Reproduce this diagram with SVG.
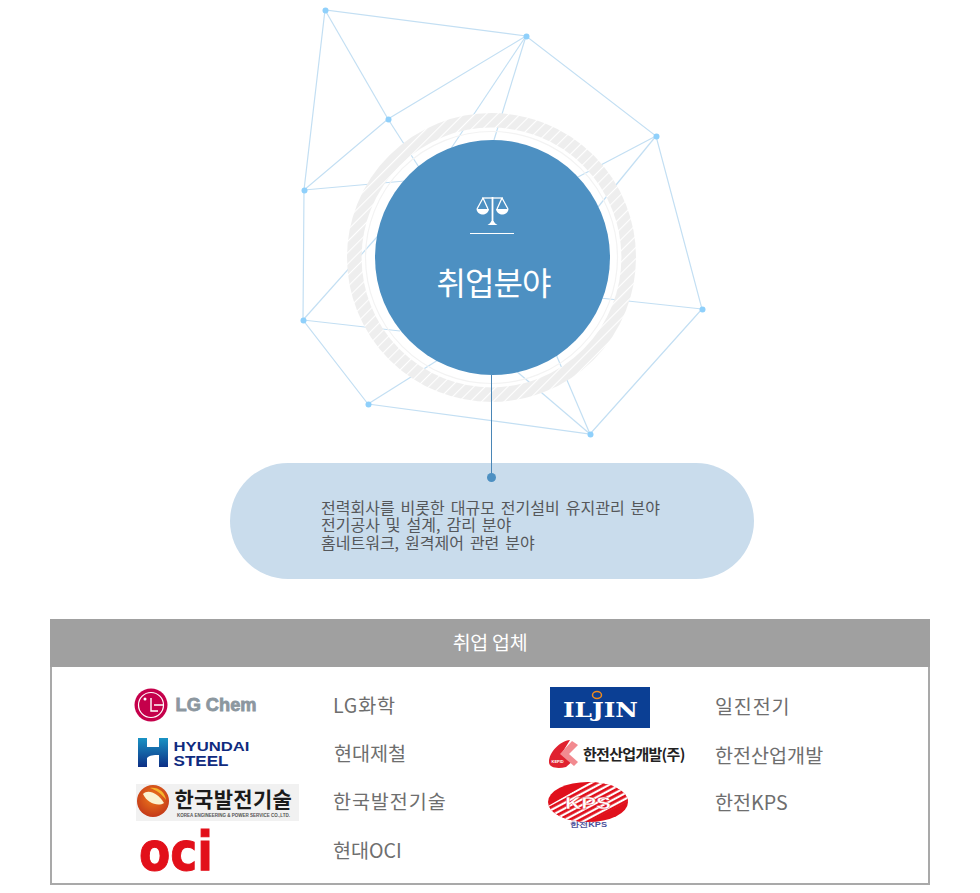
<svg xmlns="http://www.w3.org/2000/svg" width="980" height="893" viewBox="0 0 980 893">
<style>
text{font-family:"Noto Sans CJK KR","Noto Sans",sans-serif}
.l{fill:none;stroke:#c3dff3;stroke-width:1.2}
.d{fill:#8fd0fb}
.b{font-size:16px;fill:#55575a;word-spacing:2.4px}
.t{font-size:19.6px;fill:#6e6e6e}
.lat{font-family:"Liberation Sans",Arial,sans-serif;font-weight:bold}
</style>
<defs>
<pattern id="hatch" patternUnits="userSpaceOnUse" width="8" height="8" patternTransform="rotate(45)">
<rect width="8" height="8" fill="#eeeeee"/><rect width="1.1" height="8" fill="#ffffff"/>
</pattern>
<linearGradient id="hy" x1="0" y1="0" x2="0" y2="1"><stop offset="0" stop-color="#1a93c4"/><stop offset="1" stop-color="#0d2f85"/></linearGradient>
<radialGradient id="kn" cx=".5" cy=".4" r=".65"><stop offset="0" stop-color="#ef7a1a"/><stop offset="1" stop-color="#c0341a"/></radialGradient>
<clipPath id="kc"><path d="M548 806L590 782L630 782L630 800L586 823L548 823Z"/></clipPath>
<pattern id="stripe" patternUnits="userSpaceOnUse" width="5" height="5" patternTransform="rotate(-28)"><rect width="5" height="5" fill="#e0101c"/><rect y="2.800" width="5" height="2.200" fill="#ffffff"/></pattern>
</defs>
<g id="connectors">
<polyline class="l" points="304,190 325,10 526,36 656,136 702,309 590,434 368,404 303,320 304,190 388,119 526,36"/>
<line class="l" x1="325" y1="10" x2="388" y2="119"/>
<line class="l" x1="388" y1="119" x2="422" y2="172"/>
<line class="l" x1="526" y1="36" x2="448" y2="153"/>
<line class="l" x1="526" y1="36" x2="494" y2="140"/>
<line class="l" x1="304" y1="190" x2="405" y2="181"/>
<line class="l" x1="303" y1="320" x2="385" y2="228"/>
<line class="l" x1="303" y1="320" x2="400" y2="331"/>
<line class="l" x1="368" y1="404" x2="438" y2="360"/>
<line class="l" x1="590" y1="434" x2="515" y2="370"/>
<line class="l" x1="590" y1="434" x2="555" y2="352"/>
<line class="l" x1="702" y1="309" x2="600" y2="298"/>
<line class="l" x1="656" y1="136" x2="578" y2="177"/>
<line class="l" x1="656" y1="136" x2="598" y2="207"/>
<g class="d">
<circle cx="325.500" cy="10.500" r="3"/><circle cx="526.500" cy="36.500" r="3"/><circle cx="656.500" cy="136.500" r="3"/><circle cx="702.500" cy="309.500" r="3"/><circle cx="590.500" cy="434.500" r="3"/><circle cx="368.500" cy="404.500" r="3"/><circle cx="303.500" cy="320.500" r="3"/><circle cx="304.500" cy="190.500" r="3"/><circle cx="388.500" cy="119.500" r="3"/>
</g>
</g>
<g id="center-node">
<circle cx="491.500" cy="257.500" r="137.200" fill="none" stroke="url(#hatch)" stroke-width="14.600"/>
<circle cx="491.500" cy="257.500" r="126" fill="none" stroke="#f3f3f3" stroke-width="1.200"/>
<circle cx="492.500" cy="257.500" r="117.500" fill="#4d90c2"/>
<g fill="none" stroke="#fff" stroke-width="1.300">
<line x1="482" y1="198" x2="503" y2="198"/>
<path d="M483 198L477 209M483 198L488 209M502 198L497 209M502 198L508 209"/>
</g>
<g fill="#fff">
<rect x="491.600" y="197" width="1.800" height="26"/>
<path d="M476.500 209H489C488.500 213 485 214.500 483 214.500C480 214.500 477 213 476.500 209Z"/>
<path d="M496 209H508.500C508 213 505 214.500 502 214.500C500 214.500 496.500 213 496 209Z"/>
<path d="M487.500 225C489 224 490.500 223 491.500 221H493.500C494.500 223 496 224 497.500 225Z"/>
<rect x="470" y="233" width="44" height="1"/>
</g>
<text x="493.500" y="294.500" text-anchor="middle" font-size="32" fill="#fff" letter-spacing="-1">취업분야</text>
</g>
<g id="detail-node">
<rect x="230" y="463" width="524" height="116" rx="58" fill="#c9dcec"/>
<line x1="491.500" y1="375" x2="491.500" y2="477" stroke="#4a86b6" stroke-width="1"/>
<circle cx="491.500" cy="477.500" r="4.500" fill="#4d90c2"/>
<text class="b" x="321" y="513.500">전력회사를 비롯한 대규모 전기설비 유지관리 분야</text>
<text class="b" x="321" y="531">전기공사 및 설계, 감리 분야</text>
<text class="b" x="321" y="548.500">홈네트워크, 원격제어 관련 분야</text>
</g>
<g id="company-table">
<rect x="51" y="620" width="878" height="264" fill="#fff" stroke="#a9a9a9" stroke-width="2"/>
<rect x="50" y="619" width="880" height="48" fill="#a0a0a0"/>
<text x="490" y="650" text-anchor="middle" font-size="19.500" fill="#fff" letter-spacing="-.3">취업 업체</text>
</g>
<g id="lgchem">
<circle cx="151" cy="705" r="16.500" fill="#c5004b"/>
<circle cx="151" cy="705" r="12.500" fill="none" stroke="#fff" stroke-width="1.200"/>
<path d="M151 698V711H158M154 705H163" fill="none" stroke="#fff" stroke-width="1.400"/>
<circle cx="145" cy="699" r="1.500" fill="#fff"/>
<text class="lat" x="175.500" y="711" font-size="18.500" fill="#8c979f" textLength="81" lengthAdjust="spacingAndGlyphs" stroke="#8c979f" stroke-width=".8">LG Chem</text>
<text class="t" x="333" y="712.500" letter-spacing=".8">LG화학</text>
</g>
<g id="hyundai">
<path d="M138 738H147V747H159V738H168V767H159V755C153 755 150 755 147 758V767H138Z" fill="url(#hy)"/>
<text class="lat" x="173.500" y="751" font-size="13.500" fill="#0f2b80" textLength="76" lengthAdjust="spacingAndGlyphs">HYUNDAI</text>
<text class="lat" x="173.500" y="766" font-size="14.500" fill="#0f2b80" textLength="55" lengthAdjust="spacingAndGlyphs">STEEL</text>
<text class="t" x="334" y="760.500">현대제철</text>
</g>
<g id="kepco">
<rect x="136" y="784" width="163" height="37" fill="#f1f1f1"/>
<circle cx="153" cy="801" r="16" fill="url(#kn)"/>
<path d="M143 794C148 789 158 793 164 803C158 807 147 803 143 794Z" fill="#fbf3d0"/>
<path d="M150 788C158 787 165 792 166 800C162 794 156 790 150 788Z" fill="#f6b62c"/>
<text x="174.500" y="807" font-size="21" font-weight="bold" fill="#1b1b1b" letter-spacing=".3">한국발전기술</text>
<text class="lat" x="177" y="817" font-size="4.500" fill="#555" textLength="113">KOREA ENGINEERING &amp; POWER SERVICE CO.,LTD.</text>
<text class="t" x="333" y="808.500" letter-spacing=".9">한국발전기술</text>
</g>
<g id="oci">
<text x="139" y="870" font-size="54" font-weight="bold" fill="#e2101a" stroke="#e2101a" stroke-width="1" textLength="74" lengthAdjust="spacingAndGlyphs" style="font-family:'DejaVu Sans',sans-serif">oci</text>
<text class="t" x="333" y="857.500">현대OCI</text>
</g>
<g id="iljin">
<rect x="550" y="687" width="100" height="41" fill="#0b3f94"/>
<ellipse cx="597" cy="695" rx="4.500" ry="3.500" fill="none" stroke="#ef8a1d" stroke-width="1.500"/>
<text x="563" y="717" font-size="21" font-weight="bold" fill="#fff" textLength="75" lengthAdjust="spacingAndGlyphs" style="font-family:'DejaVu Serif',serif">ILJIN</text>
<text class="t" x="715" y="713.500" letter-spacing=".8">일진전기</text>
</g>
<g id="kepid">
<path d="M570 740C560 741 549 752 549 762C549 768 558 769 566 767L574 760L562 753Z" fill="#e0212f"/>
<path d="M572 741L578 745L569 754L578 762L574 766L560 754Z" fill="#f28a90"/>
<text class="lat" x="551.500" y="763" font-size="4" fill="#fff">KEPID</text>
<text x="583" y="760" font-size="15" font-weight="bold" fill="#222" letter-spacing="-.7">한전산업개발(주)</text>
<text class="t" x="715" y="762.500">한전산업개발</text>
</g>
<g id="kps">
<ellipse cx="588" cy="802" rx="40" ry="20" fill="#e0101c"/>
<ellipse cx="588" cy="802" rx="40" ry="20" fill="url(#stripe)" clip-path="url(#kc)"/>
<text class="lat" x="565" y="808.500" font-size="17" fill="#fff" stroke="#e0101c" stroke-width=".3" textLength="46" lengthAdjust="spacingAndGlyphs">KPS</text>
<text class="lat" x="570" y="827" font-size="7" fill="#4a4f9a" textLength="37" lengthAdjust="spacingAndGlyphs">한전KPS</text>
<text class="t" x="715" y="810">한전KPS</text>
</g>
</svg>
